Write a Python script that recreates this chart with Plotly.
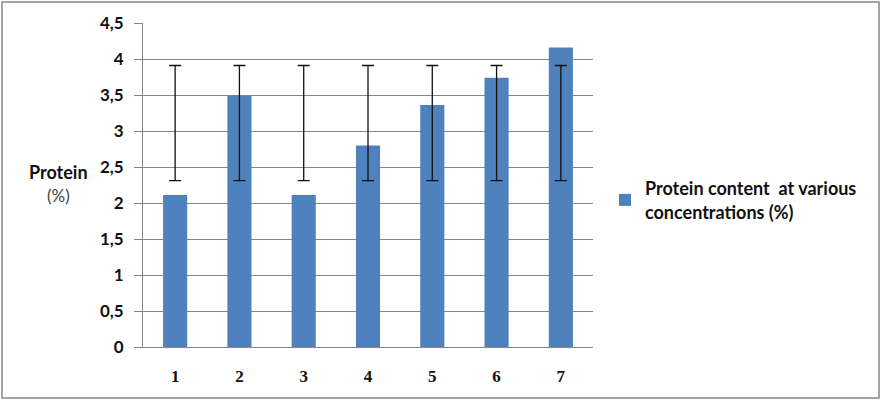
import plotly.graph_objects as go

# Datos
categorias = ['1', '2', '3', '4', '5', '6', '7']
proteina = [2.11, 3.49, 2.11, 2.80, 3.36, 3.74, 4.16]
centro_error = [3.11, 3.11, 3.11, 3.11, 3.11, 3.11, 3.11]
error = [0.80, 0.80, 0.80, 0.80, 0.80, 0.80, 0.80]

fig = go.Figure()

fig.add_trace(go.Bar(
    x=categorias,
    y=proteina,
    name='Protein content  at various<br>concentrations (%)',
    marker=dict(color='#4F81BD', line=dict(width=0)),
))

# Barras de error (mismo rango para todas)
fig.add_trace(go.Scatter(
    x=categorias,
    y=centro_error,
    mode='markers',
    marker=dict(size=1, opacity=0),
    error_y=dict(type='data', array=error, visible=True,
                 color='#111111', thickness=1.3, width=6),
    showlegend=False,
    hoverinfo='skip',
))

L, R, T, B = 143, 289, 23, 55
W, H = 882, 402
pw, ph = W - L - R, H - T - B

fig.update_layout(
    width=W, height=H,
    margin=dict(l=L, r=R, t=T, b=B),
    paper_bgcolor='white',
    plot_bgcolor='white',
    separators=', ',
    bargap=0.625,
    font=dict(family='Lato, Open Sans, sans-serif', color='#1a1a1a'),
    xaxis=dict(
        showgrid=False,
        showline=True, linecolor='#868686', linewidth=1,
        ticks='', ticklabelstandoff=14,
        tickfont=dict(family='Liberation Serif, serif', size=17, weight='bold', color='#111111'),
    ),
    yaxis=dict(
        range=[0, 4.5], dtick=0.5,
        showgrid=True, gridcolor='#868686', gridwidth=1,
        showline=True, linecolor='#868686', linewidth=1,
        ticks='outside', ticklen=8, tickcolor='#868686',
        ticklabelstandoff=7,
        zeroline=False,
        tickfont=dict(size=17, weight='bold', color='#111111'),
    ),
    showlegend=True,
    legend=dict(
        x=(605 - L) / pw, y=(H - B - 200) / ph,
        xanchor='left', yanchor='middle',
        font=dict(size=18, weight='bold', color='#111111'),
        itemwidth=30,
    ),
    annotations=[
        dict(text='<b>Protein</b>', x=(58 - L) / pw, y=(H - B - 172) / ph,
             xref='paper', yref='paper', showarrow=False,
             xanchor='center', yanchor='middle',
             font=dict(size=18, color='#111111')),
        dict(text='(%)', x=(58 - L) / pw, y=(H - B - 195) / ph,
             xref='paper', yref='paper', showarrow=False,
             xanchor='center', yanchor='middle',
             font=dict(size=17, color='#444444')),
    ],
    shapes=[
        dict(type='rect', xref='paper', yref='paper',
             x0=(2 - L) / pw, x1=(879 - L) / pw,
             y0=(H - B - 398) / ph, y1=(H - B - 2) / ph,
             line=dict(color='#868686', width=1.5)),
    ],
)

fig.write_html("out.html", config={'displayModeBar': False},
               post_script="document.body.style.margin='0';")
